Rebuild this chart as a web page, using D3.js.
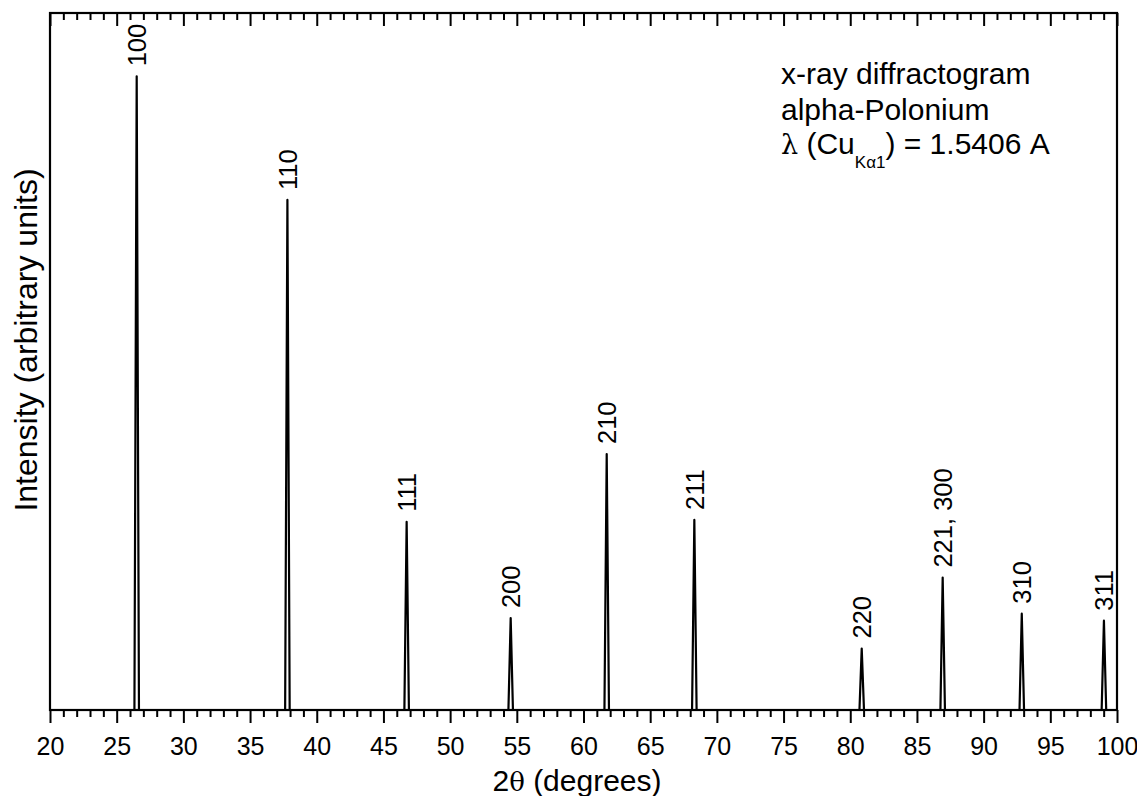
<!DOCTYPE html>
<html>
<head>
<meta charset="utf-8">
<script src="https://cdn.jsdelivr.net/npm/d3@7"></script>
<style>
  html, body { margin: 0; padding: 0; background: #fff; }
  svg { display: block; font-family: "Liberation Sans", Arial, sans-serif; }
</style>
</head>
<body>
<div id="container"></div>
<script>
// Peaks of the alpha-Po diffractogram
const hkl       = ["100", "110", "111", "200", "210", "211", "220", "221, 300", "310", "311"];
const twoTheta  = [26.50, 37.80, 46.74, 54.54, 61.74, 68.31, 80.86, 86.93, 92.86, 99.02];
const intensity = [100, 80.5, 29.7, 14.5, 40.4, 30.0, 9.7, 20.9, 15.2, 14.1];

const majorTicks = [20, 25, 30, 35, 40, 45, 50, 55, 60, 65, 70, 75, 80, 85, 90, 95, 100];
const minorTicks = d3.range(20, 101, 1).filter(v => v % 5 !== 0);

const width  = 1137;
const height = 796;
const margin = { top: 13, right: 20, bottom: 86, left: 50 };
const peakHalfWidth = 0.17;

const svg = d3.select("#container")
  .append("svg")
    .attr("width", width)
    .attr("height", height);

const x = d3.scaleLinear()
  .domain([20, 100])
  .range([margin.left, width - margin.right]);

const y = d3.scaleLinear()
  .domain([0, 110])
  .range([height - margin.bottom, margin.top]);

// pattern: flat baseline with a narrow spike at each reflection
const pts = [[20, 0]];
twoTheta.forEach((t, i) => {
  pts.push([t - peakHalfWidth, 0], [t, intensity[i]], [t + peakHalfWidth, 0]);
});
pts.push([100, 0]);

const line = d3.line()
  .x(d => x(d[0]))
  .y(d => y(d[1]));

svg.append("path")
  .datum(pts)
  .attr("fill", "none")
  .attr("stroke", "#000")
  .attr("stroke-width", 2.2)
  .attr("stroke-linejoin", "round")
  .attr("d", line);

// peak labels
svg.selectAll("text.hkl")
  .data(hkl)
  .join("text")
    .attr("class", "hkl")
    .attr("transform", (d, i) => `translate(${x(twoTheta[i])},${y(intensity[i]) - 10}) rotate(-90)`)
    .attr("dy", "0.36em")
    .attr("font-size", 25.5)
    .text(d => d);

// axes
const axisY = height - margin.bottom;

function styleAxis(g) {
  g.select(".domain").remove();
  g.selectAll("line").attr("stroke", "#000").attr("stroke-width", 2);
}

svg.append("g")
  .attr("transform", `translate(0,${axisY})`)
  .call(d3.axisBottom(x).tickValues(minorTicks).tickSize(7).tickFormat(""))
  .call(styleAxis);

svg.append("g")
  .attr("transform", `translate(0,${axisY})`)
  .call(d3.axisBottom(x).tickValues(majorTicks).tickSize(13).tickPadding(14))
  .call(styleAxis)
  .selectAll("text")
    .attr("font-size", 25)
    .attr("font-family", "Liberation Sans, Arial, sans-serif")
    .attr("fill", "#000");

svg.append("g")
  .attr("transform", `translate(0,${margin.top})`)
  .call(d3.axisTop(x).tickValues(minorTicks).tickSize(-7).tickFormat(""))
  .call(styleAxis);

svg.append("g")
  .attr("transform", `translate(0,${margin.top})`)
  .call(d3.axisTop(x).tickValues(majorTicks).tickSize(-13).tickFormat(""))
  .call(styleAxis);

// frame
svg.append("rect")
  .attr("x", margin.left)
  .attr("y", margin.top)
  .attr("width", width - margin.right - margin.left)
  .attr("height", axisY - margin.top)
  .attr("fill", "none")
  .attr("stroke", "#000")
  .attr("stroke-width", 2.2);

// axis titles
const xt = svg.append("text")
  .attr("x", 577)
  .attr("y", 791)
  .attr("text-anchor", "middle")
  .attr("font-size", 30);
xt.append("tspan").text("2");
xt.append("tspan").attr("font-family", "DejaVu Serif, serif").attr("font-size", 26).text("θ");
xt.append("tspan").text(" (degrees)");

svg.append("text")
  .attr("transform", "translate(25,340) rotate(-90)")
  .attr("text-anchor", "middle")
  .attr("dy", "0.36em")
  .attr("font-size", 32)
  .text("Intensity (arbitrary units)");

// annotation
const note = svg.append("g").attr("font-size", 30);
note.append("text").attr("x", 781).attr("y", 84).text("x-ray diffractogram");
note.append("text").attr("x", 781).attr("y", 120).text("alpha-Polonium");
const lam = note.append("text").attr("x", 781).attr("y", 154);
lam.append("tspan").attr("font-family", "DejaVu Serif, serif").attr("font-size", 27).text("λ");
lam.append("tspan").text(" (Cu");
lam.append("tspan").attr("font-size", 17).attr("dy", 14).text("Kα1");
lam.append("tspan").attr("dy", -14).text(") = 1.5406 A");
</script>
</body>
</html>
